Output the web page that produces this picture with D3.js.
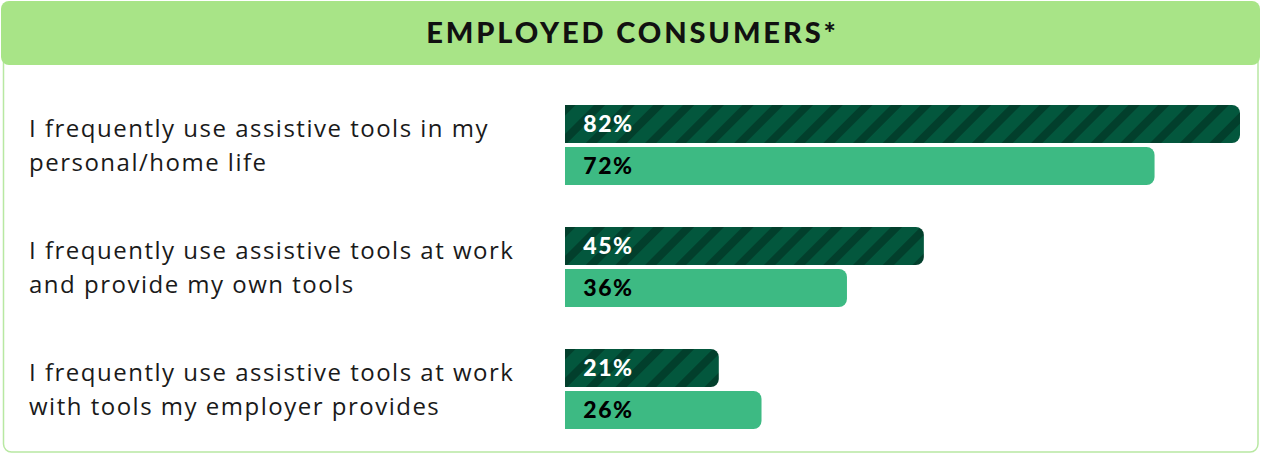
<!DOCTYPE html>
<html>
<head>
<meta charset="utf-8">
<script src="https://cdn.jsdelivr.net/npm/d3@7"></script>
<style>
  html, body { margin: 0; padding: 0; background: #ffffff; }
  svg { display: block; }
</style>
</head>
<body>
<script>
// ---- data ----
const title = "EMPLOYED CONSUMERS*";
const categories = [
  ["I frequently use assistive tools in my", "personal/home life"],
  ["I frequently use assistive tools at work", "and provide my own tools"],
  ["I frequently use assistive tools at work", "with tools my employer provides"]
];
const seriesKeys = ["striped", "solid"];
const stripedValues = [82, 45, 21];
const solidValues = [72, 36, 26];

// ---- layout ----
const W = 1263, H = 454;
const svg = d3.select("body").append("svg").attr("width", W).attr("height", H);

const defs = svg.append("defs");
const pat = defs.append("pattern")
  .attr("id", "stripes")
  .attr("patternUnits", "userSpaceOnUse")
  .attr("width", 21)
  .attr("height", 21)
  .attr("patternTransform", "rotate(45)");
pat.append("rect").attr("width", 21).attr("height", 21).attr("fill", "#03573d");
pat.append("rect").attr("x", 0).attr("width", 8).attr("height", 21).attr("fill", "#023f2c");

// outer box
svg.append("rect")
  .attr("x", 3.5).attr("y", 20).attr("width", 1254.5).attr("height", 432)
  .attr("rx", 8).attr("fill", "#fff").attr("stroke", "#b8e8a2").attr("stroke-width", 1.5);

// header
svg.append("rect")
  .attr("x", 1).attr("y", 1).attr("width", 1259).attr("height", 64)
  .attr("rx", 8).attr("fill", "#a8e487");
svg.append("text")
  .attr("x", 632.5).attr("y", 43)
  .attr("text-anchor", "middle")
  .attr("font-family", "Lato, sans-serif")
  .attr("font-weight", 900)
  .attr("font-size", 29)
  .attr("letter-spacing", 2.9)
  .attr("fill", "#111")
  .text(title);

// scales
const y = d3.scaleBand()
  .domain(d3.range(categories.length))
  .range([105, 429])
  .paddingInner(42 / 122)
  .paddingOuter(0);
const ySub = d3.scaleBand()
  .domain(seriesKeys)
  .range([0, y.bandwidth()])
  .paddingInner(4 / 42);
const x = d3.scaleLinear().domain([3, 82]).range([565, 1240]);
const x0 = x(3);

function barPath(x1, yTop, h, r) {
  const p = d3.path();
  p.moveTo(x0, yTop);
  p.lineTo(x1 - r, yTop);
  p.arcTo(x1, yTop, x1, yTop + r, r);
  p.lineTo(x1, yTop + h - r);
  p.arcTo(x1, yTop + h, x1 - r, yTop + h, r);
  p.lineTo(x0, yTop + h);
  p.closePath();
  return p.toString();
}

const rows = categories.map((c, i) => ({
  lines: c,
  i,
  bars: [
    { key: "striped", value: stripedValues[i] },
    { key: "solid", value: solidValues[i] }
  ]
}));

const g = svg.selectAll("g.row").data(rows).join("g")
  .attr("class", "row")
  .attr("transform", d => `translate(0,${y(d.i)})`);

// category labels
g.append("text")
  .attr("font-family", "'Open Sans', sans-serif")
  .attr("font-size", 24)
  .attr("letter-spacing", 1.5)
  .attr("fill", "#1a1a1a")
  .selectAll("tspan").data(d => d.lines).join("tspan")
  .attr("x", 29)
  .attr("y", (d, j) => y.bandwidth() / 2 + 8.5 + (j === 0 ? -17 : 17))
  .text(d => d);

const bars = g.selectAll("g.bar").data(d => d.bars).join("g").attr("class", "bar");
bars.append("path")
  .attr("d", d => barPath(x(d.value), ySub(d.key), ySub.bandwidth(), 8))
  .attr("fill", d => d.key === "striped" ? "url(#stripes)" : "#3dba83");
bars.append("text")
  .attr("x", 633.5)
  .attr("y", d => ySub(d.key) + ySub.bandwidth() / 2)
  .attr("dy", "0.36em")
  .attr("text-anchor", "end")
  .attr("font-family", "Lato, sans-serif")
  .attr("font-weight", 900)
  .attr("font-size", 23)
  .attr("letter-spacing", 1.5)
  .attr("fill", d => d.key === "striped" ? "#ffffff" : "#000000")
  .text(d => d.value + "%");
</script>
</body>
</html>
